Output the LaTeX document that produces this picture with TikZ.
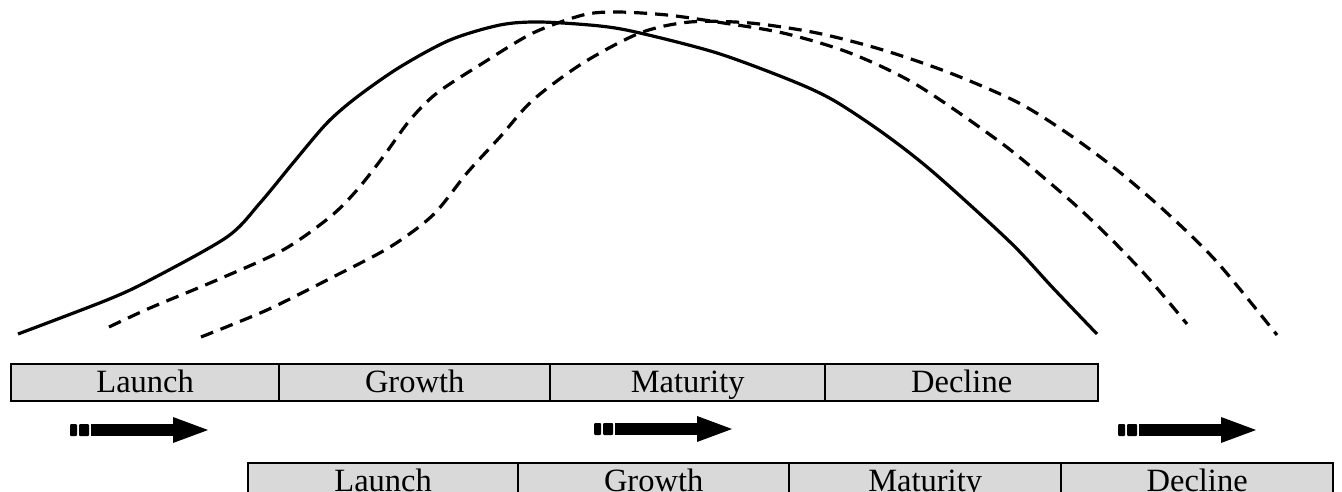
\documentclass[tikz,border=0pt]{standalone}
\usepackage{fontspec}
\setmainfont{Liberation Serif}
\begin{document}
\begin{tikzpicture}[x=1pt,y=-1pt,
  stagebox/.style={draw=black,line width=2.3pt,fill=black!15,anchor=north west,
    minimum height=37pt,inner sep=0pt,font=\fontsize{32.5}{36}\selectfont,
    text height=23pt,text depth=3pt},
  curve/.style={line width=3.2pt,line join=round},
  dcurve/.style={curve,dash pattern=on 13pt off 8pt},
  fatarrow/.pic={
    \fill[rounded corners=1pt] (0,-6) rectangle (7,6);
    \fill[rounded corners=1pt] (9,-6) rectangle (19,6);
    \fill (21,-6) rectangle (104,6);
    \fill (103,-13) -- (138,0) -- (103,13) -- cycle;
  }]
\useasboundingbox (0,0) rectangle (1342,492);
% curves
\draw[curve] plot[smooth,tension=0.5] coordinates {(18,334) (107,300) (150,280) (227,237) (260,203) (293,163) (327,123) (357,97) (400,67) (450,40) (500,25) (540,22) (600,26) (640,33) (717,53) (790,80) (833,100) (883,133) (933,172) (1010,242) (1053,288) (1097,334)};
\draw[dcurve] plot[smooth,tension=0.5] coordinates {(109,327) (150,308) (217,280) (283,250) (330,217) (357,190) (383,157) (410,120) (437,93) (483,63) (533,33) (583,15) (617,12) (667,15) (717,22) (783,33) (850,53) (917,85) (1000,142) (1050,183) (1083,212) (1117,245) (1150,280) (1187,324)};
\draw[dcurve] plot[smooth,tension=0.5] coordinates {(201,337) (267,310) (333,277) (390,247) (433,215) (467,173) (500,137) (533,100) (583,63) (640,33) (690,22) (750,23) (817,33) (883,50) (950,73) (1017,102) (1067,133) (1117,170) (1167,213) (1217,262) (1277,335)};
% top row
\node[stagebox,minimum width=268pt] (t1) at (10,363) {Launch};
\node[stagebox,minimum width=271pt] (t2) at (278,363) {Growth};
\node[stagebox,minimum width=275pt] (t3) at (549,363) {Maturity};
\node[stagebox,minimum width=273pt] (t4) at (824,363) {Decline};
% bottom row
\node[stagebox,minimum width=270pt] (b1) at (247,462) {Launch};
\node[stagebox,minimum width=271pt] (b2) at (517,462) {Growth};
\node[stagebox,minimum width=272pt] (b3) at (788,462) {Maturity};
\node[stagebox,minimum width=272pt] (b4) at (1060,462) {Decline};
% arrows
\pic at (70,430) {fatarrow};
\pic at (594,429) {fatarrow};
\pic at (1118,430) {fatarrow};
\end{tikzpicture}
\end{document}
